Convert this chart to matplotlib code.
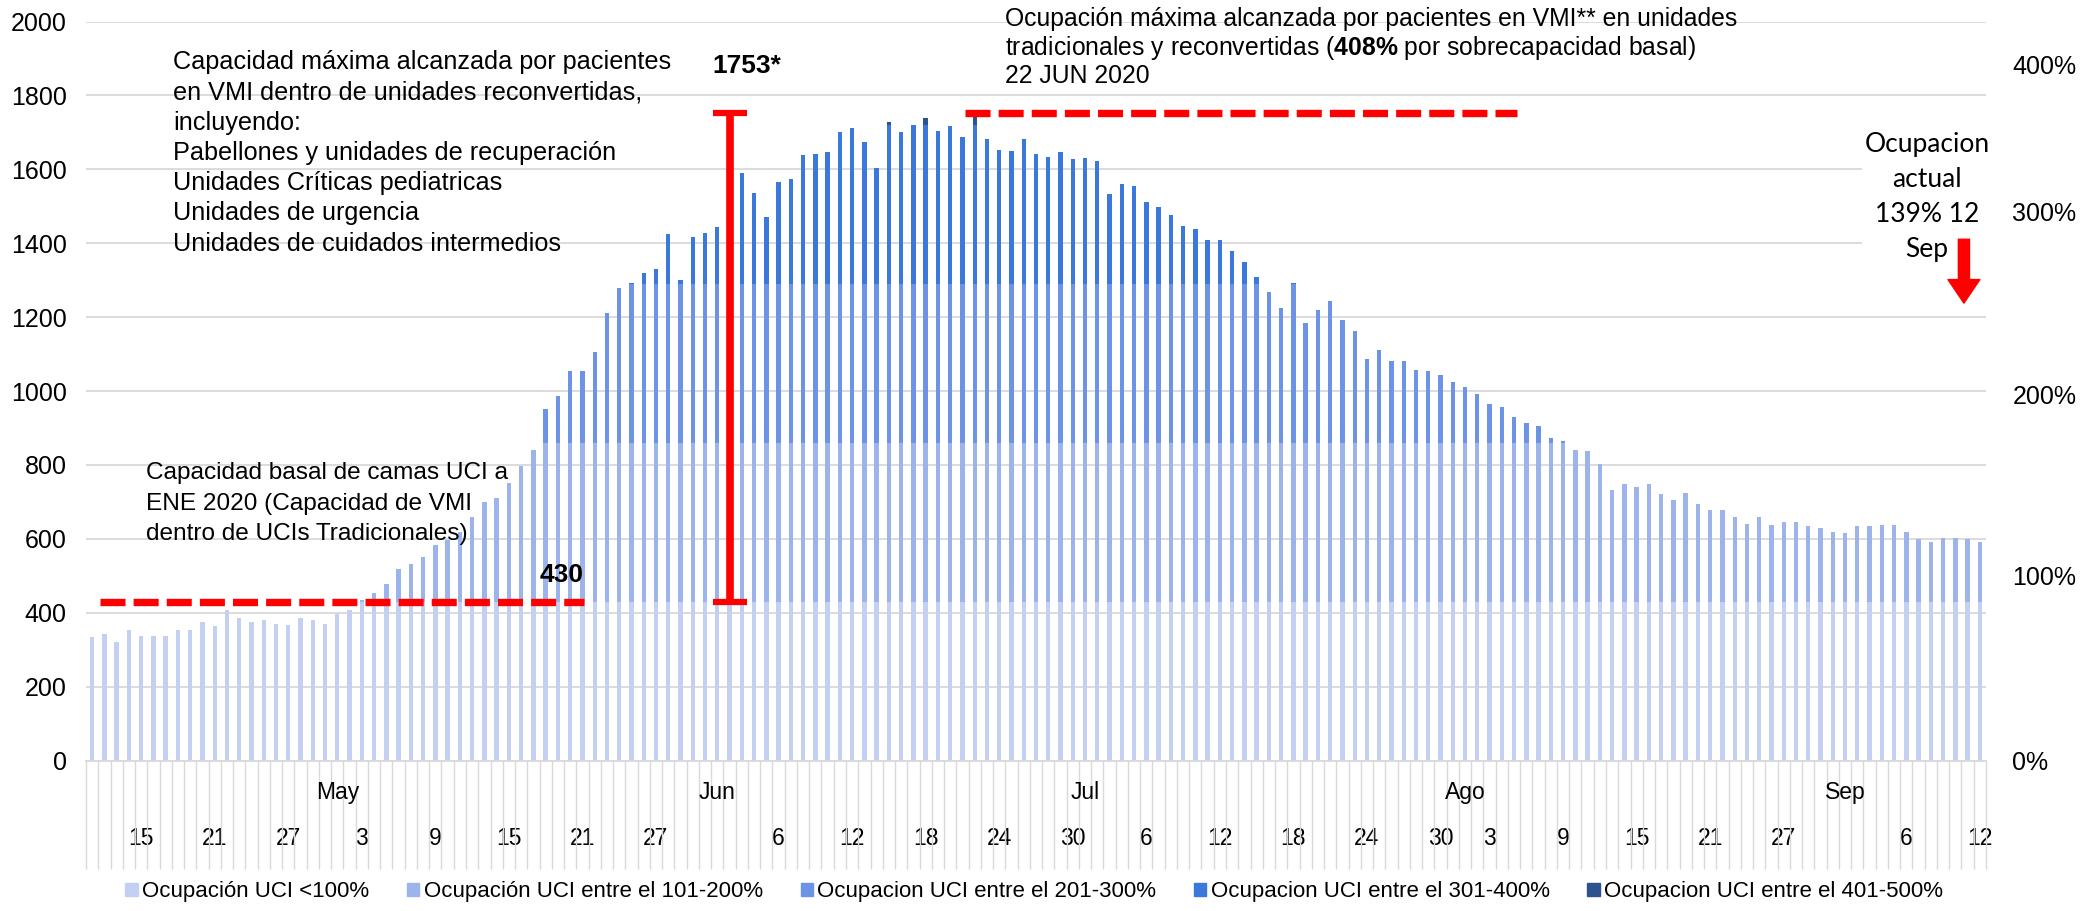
import matplotlib
matplotlib.use("Agg")
import matplotlib.pyplot as plt
from matplotlib import font_manager
from matplotlib.patches import Patch
from matplotlib.transforms import blended_transform_factory
import numpy as np
import pandas as pd

# pacientes en VMI por dia, 11 abr - 12 sep 2020
dates = pd.date_range("2020-04-11", "2020-09-12", freq="D")
vmi = [334, 342, 320, 353, 338, 338, 338, 353, 353, 376,
       364, 408, 386, 376, 380, 371, 368, 386, 380, 371,
       398, 408, 435, 454, 478, 518, 533, 552, 584, 597,
       620, 660, 699, 710, 752, 798, 841, 951, 988, 1054,
       1054, 1107, 1212, 1279, 1292, 1320, 1331, 1425, 1301, 1418,
       1429, 1445, 1470, 1589, 1537, 1470, 1567, 1575, 1638, 1643,
       1647, 1702, 1713, 1675, 1605, 1728, 1702, 1721, 1739, 1705,
       1717, 1687, 1753, 1683, 1653, 1650, 1683, 1642, 1634, 1646,
       1627, 1631, 1624, 1533, 1560, 1556, 1511, 1499, 1477, 1447,
       1440, 1409, 1409, 1379, 1349, 1310, 1267, 1226, 1293, 1185,
       1219, 1245, 1192, 1163, 1088, 1110, 1081, 1081, 1058, 1054,
       1043, 1025, 1011, 993, 966, 958, 929, 914, 906, 872,
       864, 841, 837, 804, 733, 748, 741, 748, 722, 706,
       724, 695, 679, 679, 660, 641, 660, 638, 645, 645,
       634, 630, 619, 615, 634, 634, 638, 638, 619, 600,
       592, 603, 603, 600, 592]

basal = 430          # camas UCI basales ENE 2020
peak = 1753          # maximo 22 JUN 2020
peak_date = "2020-06-22"
bar_note_date = "2020-06-02"

band_labels = ["Ocupación UCI <100%",
               "Ocupación UCI entre el 101-200%",
               "Ocupacion UCI entre el 201-300%",
               "Ocupacion UCI entre el 301-400%",
               "Ocupacion UCI entre el 401-500%"]
band_colors = ["#c3d0f2", "#9db3ec", "#6c93e6", "#3a78dc", "#2c528f"]

day_ticks = ["2020-04-15", "2020-04-21", "2020-04-27", "2020-05-03", "2020-05-09",
             "2020-05-15", "2020-05-21", "2020-05-27", "2020-06-06", "2020-06-12",
             "2020-06-18", "2020-06-24", "2020-06-30", "2020-07-06", "2020-07-12",
             "2020-07-18", "2020-07-24", "2020-07-30", "2020-08-03", "2020-08-09",
             "2020-08-15", "2020-08-21", "2020-08-27", "2020-09-06", "2020-09-12"]
month_starts = ["2020-05-01", "2020-06-01", "2020-07-01", "2020-08-01", "2020-09-01"]
month_names = ["May", "Jun", "Jul", "Ago", "Sep"]
right_labels = ["0%", "100%", "200%", "300%", "400%"]

installed = {f.name for f in font_manager.fontManager.ttflist}
if "Liberation Sans Narrow" in installed:
    narrow, axis_size, legend_size = "Liberation Sans Narrow", 19, 18
else:
    narrow, axis_size, legend_size = "Liberation Sans", 16.5, 16

plt.rcParams["font.family"] = "Liberation Sans"
plt.rcParams["mathtext.fontset"] = "custom"
plt.rcParams["mathtext.rm"] = "Liberation Sans"
plt.rcParams["mathtext.bf"] = "Liberation Sans:bold"

fig = plt.figure(figsize=(20.81, 9.11), dpi=100)
ax = fig.add_axes([86 / 2081, 1 - 760.6 / 911, 1900 / 2081, 739 / 911])

idx = {d: i for i, d in enumerate(dates.strftime("%Y-%m-%d"))}
x = np.arange(len(dates))
v = np.array(vmi, dtype=float)

# each bar is split in occupancy bands of 100% of the basal capacity
for k, color in enumerate(band_colors):
    lo = k * basal
    hi = (k + 1) * basal if k < len(band_colors) - 1 else np.inf
    seg = np.clip(v - lo, 0, hi - lo)
    ax.bar(x, seg, bottom=lo, width=0.36, color=color, linewidth=0, zorder=2)

ax.set_xlim(-0.5, len(dates) - 0.5)
ax.set_ylim(0, 2000)
ax.set_yticks(range(0, 2001, 200))
ax.yaxis.grid(True, color="#d9d9d9", linewidth=1.3)
ax.set_axisbelow(True)
for side in ["top", "left", "right"]:
    ax.spines[side].set_visible(False)
ax.spines["bottom"].set_color("#d9d9d9")
ax.spines["bottom"].set_linewidth(1.3)
ax.tick_params(axis="y", length=0, pad=14, labelsize=18)

# day labels and one separator per category
ax.set_xticks([idx[d] for d in day_ticks], [str(int(d[-2:])) for d in day_ticks])
ax.set_xticks(np.arange(-0.5, len(dates), 1), minor=True)
ax.tick_params(axis="x", which="major", length=0, pad=48)
ax.tick_params(axis="x", which="minor", length=78, width=1, color="#d9d9d9")
for lab in ax.get_xticklabels():
    lab.set_fontfamily(narrow)
    lab.set_fontsize(axis_size)

trans = blended_transform_factory(ax.transData, ax.transAxes)
for d, name in zip(month_starts, month_names):
    ax.text(idx[d], -0.043, name, transform=trans, ha="center", va="center",
            fontsize=axis_size, family=narrow)

# right-hand occupancy scale
ax2 = ax.twinx()
ax2.set_ylim(ax.get_ylim())
ax2.set_yticks([0, 500, 990, 1485, 1885], right_labels)
ax2.tick_params(axis="y", length=0, pad=19, labelsize=18)
for side in ax2.spines:
    ax2.spines[side].set_visible(False)

# basal capacity and maximum occupancy markers
dash = (0, (3.4, 1.1))
ax.hlines(basal, 0.65, 40.1, colors="red", linewidth=5.3, linestyles=dash,
          capstyle="butt", zorder=4)
ax.hlines(peak, idx[peak_date] - 0.8, 116.2, colors="red", linewidth=5.3,
          linestyles=dash, capstyle="butt", zorder=4)
ax.errorbar(idx[bar_note_date], (basal + peak) / 2, yerr=(peak - basal) / 2, fmt="none",
            ecolor="red", elinewidth=5.5, capsize=12, capthick=4.5, zorder=5)

ax.text(38.3, basal + 71, str(basal), ha="center", va="center", fontsize=19,
        fontweight="bold", family=narrow, zorder=6)
ax.text(idx[bar_note_date] + 1.4, 1880, f"{peak}*", ha="center", va="center",
        fontsize=19, fontweight="bold", zorder=6)

ax.text(6.6, 1645,
        "Capacidad máxima alcanzada por pacientes\n"
        "en VMI dentro de unidades reconvertidas,\n"
        "incluyendo:\n"
        "Pabellones y unidades de recuperación\n"
        "Unidades Críticas pediatricas\n"
        "Unidades de urgencia\n"
        "Unidades de cuidados intermedios",
        ha="left", va="center", fontsize=18.2, linespacing=1.33, zorder=6)

ax.text(4.4, 695,
        "Capacidad basal de camas UCI a\n"
        "ENE 2020 (Capacidad de VMI\n"
        "dentro de UCIs Tradicionales)",
        ha="left", va="center", fontsize=17.6, linespacing=1.5, zorder=6)

ax.text(74.5, 2007, "Ocupación máxima alcanzada por pacientes en VMI** en unidades",
        ha="left", va="center", fontsize=17.8)
ax.text(74.5, 1929, "tradicionales y reconvertidas (" + r"$\mathbf{408\%}$"
        + " por sobrecapacidad basal)", ha="left", va="center", fontsize=17.8)
ax.text(74.5, 1853, "22 JUN 2020", ha="left", va="center", fontsize=17.8)

ax.text(149.7, 1525, "Ocupacion\nactual\n139% 12\nSep", ha="center", va="center",
        fontsize=19, family="Lato", linespacing=1.5, zorder=6,
        bbox=dict(facecolor="white", edgecolor="none", pad=2))
ax.annotate("", xy=(152.7, 1238), xytext=(152.7, 1411),
            arrowprops=dict(arrowstyle="simple,head_width=2.3,head_length=1.7,tail_width=0.8",
                            color="red", mutation_scale=10, shrinkA=0, shrinkB=0),
            annotation_clip=False, zorder=6)

handles = [Patch(color=c) for c in band_colors]
fig.legend(handles, band_labels, loc="center", bbox_to_anchor=(0.497, 1 - 892 / 911),
           ncol=5, frameon=False, handlelength=0.55, handleheight=0.55,
           handletextpad=0.2, columnspacing=1.7,
           prop={"family": narrow, "size": legend_size})

fig.savefig("out.png", dpi=100)
